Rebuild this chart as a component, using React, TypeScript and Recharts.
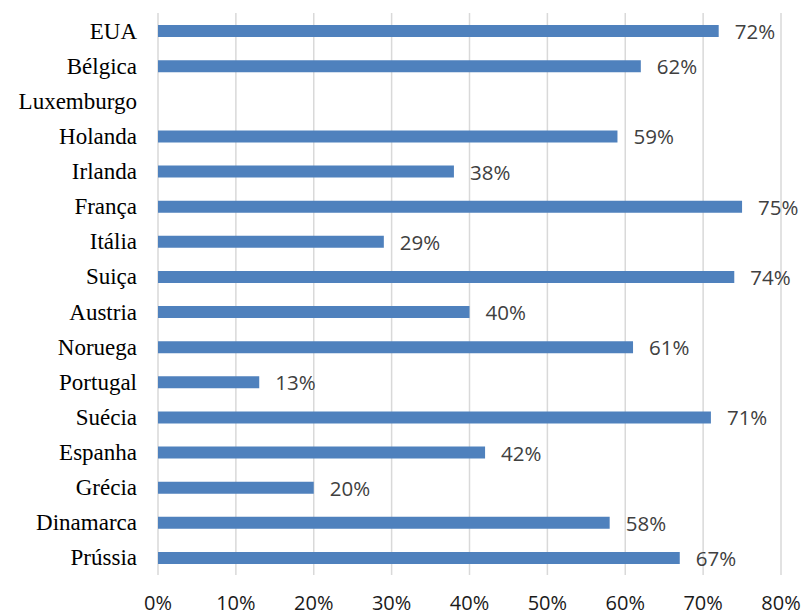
import React from 'react';
import { BarChart, Bar, XAxis, YAxis, CartesianGrid, LabelList } from 'recharts';

const countries = [
  'EUA', 'Bélgica', 'Luxemburgo', 'Holanda', 'Irlanda', 'França', 'Itália', 'Suiça',
  'Austria', 'Noruega', 'Portugal', 'Suécia', 'Espanha', 'Grécia', 'Dinamarca', 'Prússia',
];
const shares: (number | null)[] = [72, 62, null, 59, 38, 75, 29, 74, 40, 61, 13, 71, 42, 20, 58, 67];
const xTicks = [0, 10, 20, 30, 40, 50, 60, 70, 80];

const data = countries.map((name, i) => ({ name, value: shares[i] }));

const CountryTick = (props: any) => {
  const { x, y, payload } = props;
  return (
    <text x={x - 13} y={y} dy={8} textAnchor="end" fontFamily="'Liberation Serif', serif" fontSize={23} fill="#000">
      {payload.value}
    </text>
  );
};

const PctTick = (props: any) => {
  const { x, y, payload } = props;
  return (
    <text x={x} y={y} dy={26.5} textAnchor="middle" fontFamily="'Open Sans', sans-serif" fontSize={20} fill="#1a1a1a">
      {payload.value}%
    </text>
  );
};

const ValueLabel = (props: any) => {
  const { x, y, width, height, value } = props;
  if (value == null) return null;
  return (
    <text x={x + width + 16} y={y + height / 2} dy={8} fontFamily="'Open Sans', sans-serif" fontSize={20.5} fill="#404040">
      {value}%
    </text>
  );
};

export default function App() {
  return (
    <div style={{ position: 'absolute', left: 0, top: 0, background: '#fff' }}>
      <BarChart
        width={803}
        height={615}
        data={data}
        layout="vertical"
        margin={{ top: 13, right: 22, bottom: 0, left: 0 }}
        barCategoryGap={0}
      >
        <CartesianGrid horizontal={false} stroke="#d9d9d9" strokeWidth={1.5} />
        <XAxis
          type="number"
          domain={[0, 80]}
          ticks={xTicks}
          axisLine={false}
          tickLine={false}
          tick={<PctTick />}
          height={40}
          interval={0}
        />
        <YAxis
          type="category"
          dataKey="name"
          width={158}
          axisLine={false}
          tickLine={false}
          tick={<CountryTick />}
          interval={0}
        />
        <Bar dataKey="value" fill="#4f81bd" barSize={12} isAnimationActive={false}>
          <LabelList dataKey="value" content={<ValueLabel />} />
        </Bar>
      </BarChart>
    </div>
  );
}
